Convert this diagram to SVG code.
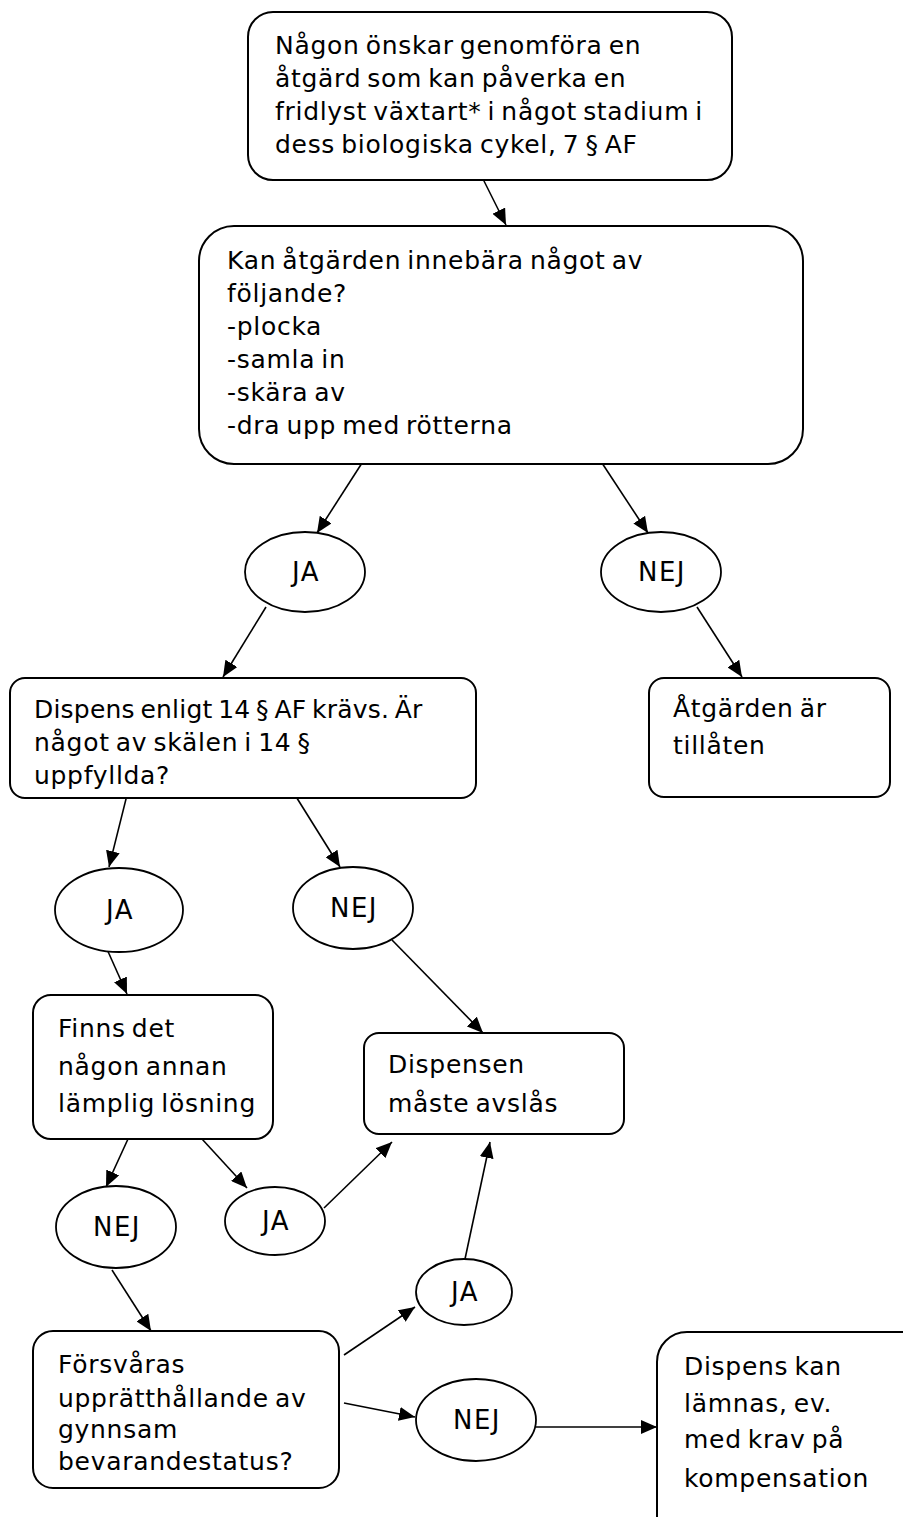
<svg xmlns="http://www.w3.org/2000/svg" width="903" height="1517" viewBox="0 0 903 1517">
<defs>
<marker id="ah" markerUnits="userSpaceOnUse" markerWidth="17" markerHeight="14" refX="16" refY="7" orient="auto">
<path d="M0,0 L16,7 L0,14 Z" fill="#000"/>
</marker>
<style>
.box{fill:#fff;stroke:#000;stroke-width:2}
.el{fill:#fff;stroke:#000;stroke-width:1.8}
.t{font-family:"DejaVu Sans","Liberation Sans",sans-serif;font-size:25px;fill:#000;letter-spacing:0.7px;word-spacing:-2.5px}
.c{text-anchor:middle;font-size:26px;letter-spacing:1.5px}
.con line{stroke:#000;stroke-width:1.6;marker-end:url(#ah)}
</style>
</defs>
<rect width="903" height="1517" fill="#fff"/>
<g class="con">
<line x1="482" y1="177" x2="506" y2="225"/>
<line x1="362" y1="463" x2="317" y2="533"/>
<line x1="602" y1="463" x2="648" y2="533"/>
<line x1="266" y1="607" x2="223" y2="677"/>
<line x1="697" y1="607" x2="742" y2="677"/>
<line x1="127" y1="795" x2="109" y2="867"/>
<line x1="295" y1="795" x2="340" y2="867"/>
<line x1="106" y1="947" x2="127" y2="994"/>
<line x1="392" y1="940" x2="483" y2="1033"/>
<line x1="128" y1="1139" x2="106" y2="1187"/>
<line x1="202" y1="1139" x2="247" y2="1188"/>
<line x1="324" y1="1208" x2="392" y2="1142"/>
<line x1="465" y1="1259" x2="490" y2="1142"/>
<line x1="112" y1="1270" x2="151" y2="1331"/>
<line x1="344" y1="1355" x2="415" y2="1307"/>
<line x1="344" y1="1403" x2="415" y2="1417"/>
<line x1="536" y1="1427" x2="657" y2="1427"/>
</g>
<g id="n1">
<rect class="box" x="248" y="12" width="484" height="168" rx="25"/>
<text class="t" x="275" y="54">Någon önskar genomföra en</text>
<text class="t" x="275" y="87">åtgärd som kan påverka en</text>
<text class="t" x="275" y="120">fridlyst växtart* i något stadium i</text>
<text class="t" x="275" y="153">dess biologiska cykel, 7 § AF</text>
</g>
<g id="n2">
<rect class="box" x="199" y="226" width="604" height="238" rx="35"/>
<text class="t" x="227" y="269">Kan åtgärden innebära något av</text>
<text class="t" x="227" y="302">följande?</text>
<text class="t" x="227" y="335">-plocka</text>
<text class="t" x="227" y="368">-samla in</text>
<text class="t" x="227" y="401">-skära av</text>
<text class="t" x="227" y="434">-dra upp med rötterna</text>
</g>
<g id="ja1">
<ellipse class="el" cx="305" cy="572" rx="60" ry="40"/>
<text class="t c" x="306" y="581">JA</text>
</g>
<g id="nej1">
<ellipse class="el" cx="661" cy="572" rx="60" ry="40"/>
<text class="t c" x="662" y="581">NEJ</text>
</g>
<g id="n3">
<rect class="box" x="10" y="678" width="466" height="120" rx="15"/>
<text class="t" x="34" y="718" textLength="389">Dispens enligt 14 § AF krävs. Är</text>
<text class="t" x="34" y="751">något av skälen i 14 §</text>
<text class="t" x="34" y="784">uppfyllda?</text>
</g>
<g id="n4">
<rect class="box" x="649" y="678" width="241" height="119" rx="15"/>
<text class="t" x="673" y="717">Åtgärden är</text>
<text class="t" x="673" y="754">tillåten</text>
</g>
<g id="ja2">
<ellipse class="el" cx="119" cy="910" rx="64" ry="42"/>
<text class="t c" x="120" y="919">JA</text>
</g>
<g id="nej2">
<ellipse class="el" cx="353" cy="908" rx="60" ry="41"/>
<text class="t c" x="354" y="917">NEJ</text>
</g>
<g id="n5">
<rect class="box" x="33" y="995" width="240" height="144" rx="18"/>
<text class="t" x="58" y="1037">Finns det</text>
<text class="t" x="58" y="1075">någon annan</text>
<text class="t" x="58" y="1112">lämplig lösning</text>
</g>
<g id="n6">
<rect class="box" x="364" y="1033" width="260" height="101" rx="15"/>
<text class="t" x="388" y="1073">Dispensen</text>
<text class="t" x="388" y="1112">måste avslås</text>
</g>
<g id="nej3">
<ellipse class="el" cx="116" cy="1227" rx="60" ry="41"/>
<text class="t c" x="117" y="1236">NEJ</text>
</g>
<g id="ja3">
<ellipse class="el" cx="275" cy="1221" rx="50" ry="34"/>
<text class="t c" x="276" y="1230">JA</text>
</g>
<g id="ja4">
<ellipse class="el" cx="464" cy="1292" rx="48" ry="33"/>
<text class="t c" x="465" y="1301">JA</text>
</g>
<g id="n7">
<rect class="box" x="33" y="1331" width="306" height="157" rx="20"/>
<text class="t" x="58" y="1373">Försvåras</text>
<text class="t" x="58" y="1407">upprätthållande av</text>
<text class="t" x="58" y="1438">gynnsam</text>
<text class="t" x="58" y="1470">bevarandestatus?</text>
</g>
<g id="nej4">
<ellipse class="el" cx="476" cy="1420" rx="60" ry="41"/>
<text class="t c" x="477" y="1429">NEJ</text>
</g>
<g id="n8">
<rect class="box" x="657" y="1332" width="280" height="220" rx="30"/>
<text class="t" x="684" y="1375">Dispens kan</text>
<text class="t" x="684" y="1412">lämnas, ev.</text>
<text class="t" x="684" y="1448">med krav på</text>
<text class="t" x="684" y="1487">kompensation</text>
</g>
</svg>
